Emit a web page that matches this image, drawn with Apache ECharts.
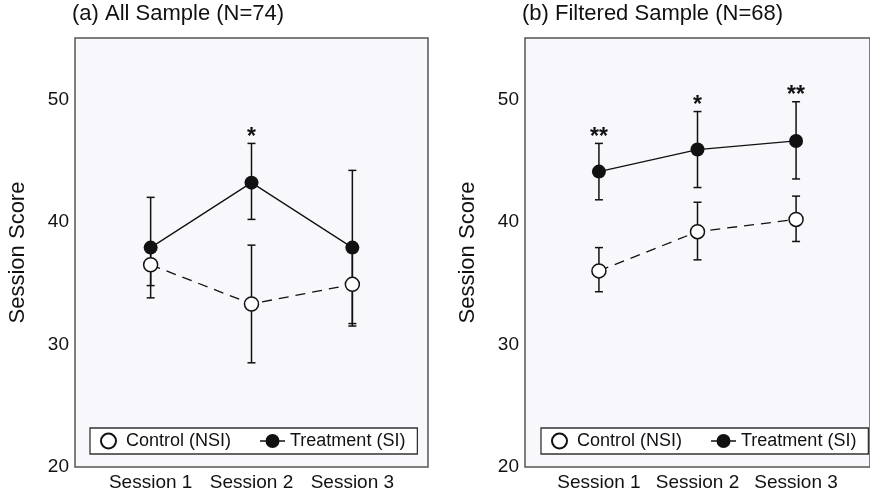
<!DOCTYPE html>
<html>
<head>
<meta charset="utf-8">
<script src="https://cdn.jsdelivr.net/npm/echarts@6/dist/echarts.min.js"></script>
<style>
  html, body { margin: 0; padding: 0; background: #ffffff; }
  #chart { width: 870px; height: 494px; }
</style>
</head>
<body>
<div id="chart"></div>
<script>
// Session labels and y-axis tick values
const categories = ['Session 1', 'Session 2', 'Session 3'];
const yTicks = [20, 30, 40, 50];

// (a) All sample: means with lower/upper error bar ends
const allControlMean = [36.5, 33.3, 34.9];
const allControlLow  = [34.8, 28.5, 31.5];
const allControlHigh = [38.2, 38.1, 38.2];
const allTreatMean   = [37.9, 43.2, 37.9];
const allTreatLow    = [33.8, 40.2, 31.7];
const allTreatHigh   = [42.0, 46.4, 44.2];
const allSig         = ['', '*', ''];

// (b) Filtered sample
const filtControlMean = [36.0, 39.2, 40.2];
const filtControlLow  = [34.3, 36.9, 38.4];
const filtControlHigh = [37.9, 41.6, 42.1];
const filtTreatMean   = [44.1, 45.9, 46.6];
const filtTreatLow    = [41.8, 42.8, 43.5];
const filtTreatHigh   = [46.4, 49.0, 49.8];
const filtSig         = ['**', '*', '**'];

const panelTitles = ['(a) All Sample (N=74)', '(b) Filtered Sample (N=68)'];
const controlName = 'Control (NSI)';
const treatName = 'Treatment (SI)';

const FONT = '"Liberation Sans", Arial, Helvetica, sans-serif';
const INK = '#111';

// legend glyph for the treatment series: short line with a filled dot
const treatIcon = 'path://M0,6.3L6,6.3L6,7.7L0,7.7Z M19,6.3L25,6.3L25,7.7L19,7.7Z ' +
  'M5.5,7A7,7 0 1,1 19.5,7A7,7 0 1,1 5.5,7Z';

const points = (vals) => vals.map((v, i) => [i + 1, v]);
const ranges = (lo, hi) => lo.map((l, i) => [i + 1, l, hi[i]]);

function errorBars(idx, lo, hi) {
  return {
    type: 'custom',
    xAxisIndex: idx, yAxisIndex: idx,
    z: 1,
    silent: true,
    data: ranges(lo, hi),
    renderItem: function (params, api) {
      const x = api.value(0);
      const top = api.coord([x, api.value(2)]);
      const bot = api.coord([x, api.value(1)]);
      const cap = 4;
      const style = { stroke: INK, lineWidth: 1.5 };
      return {
        type: 'group',
        children: [
          { type: 'line', shape: { x1: top[0], y1: top[1], x2: bot[0], y2: bot[1] }, style },
          { type: 'line', shape: { x1: top[0] - cap, y1: top[1], x2: top[0] + cap, y2: top[1] }, style },
          { type: 'line', shape: { x1: bot[0] - cap, y1: bot[1], x2: bot[0] + cap, y2: bot[1] }, style }
        ]
      };
    }
  };
}

function sigMarks(idx, hi, sig) {
  return {
    type: 'custom',
    xAxisIndex: idx, yAxisIndex: idx,
    z: 5,
    silent: true,
    data: hi.map((h, i) => [i + 1, h, sig[i]]),
    renderItem: function (params, api) {
      const p = api.coord([api.value(0), api.value(1)]);
      return {
        type: 'text',
        style: {
          text: sig[params.dataIndex],
          x: p[0], y: p[1] - 6,
          align: 'center', verticalAlign: 'middle',
          font: 'bold 23px ' + FONT,
          fill: INK
        }
      };
    }
  };
}

function controlLine(idx, mean) {
  return {
    name: controlName,
    type: 'line',
    xAxisIndex: idx, yAxisIndex: idx,
    z: 3,
    data: points(mean),
    symbol: 'circle',
    symbolSize: 14,
    itemStyle: { color: '#ffffff', borderColor: INK, borderWidth: 1.5 },
    lineStyle: { color: INK, width: 1.3, type: [10, 7] },
    silent: true
  };
}

function treatLine(idx, mean) {
  return {
    name: treatName,
    type: 'line',
    xAxisIndex: idx, yAxisIndex: idx,
    z: 4,
    data: points(mean),
    symbol: 'circle',
    symbolSize: 14,
    itemStyle: { color: INK, borderColor: INK, borderWidth: 0 },
    lineStyle: { color: INK, width: 1.3 },
    silent: true
  };
}

const gridLefts = [75, 525];

function legendFor(left) {
  return {
    left: left, top: 428,
    width: 320,
    orient: 'horizontal',
    padding: [4, 12, 4, 10],
    itemGap: 29,
    itemWidth: 25,
    itemHeight: 15,
    borderColor: '#333',
    borderWidth: 1.3,
    backgroundColor: '#ffffff',
    borderRadius: 0,
    selectedMode: false,
    textStyle: { fontFamily: FONT, fontSize: 18, color: INK, padding: [0, 0, 0, 0] },
    data: [{ name: controlName, icon: 'circle' }, { name: treatName, icon: treatIcon }]
  };
}

const option = {
  animation: false,
  backgroundColor: '#ffffff',
  title: panelTitles.map((t, i) => ({
    text: t,
    left: gridLefts[i] - 3,
    top: 3,
    padding: 0,
    textStyle: { fontFamily: FONT, fontSize: 22, fontWeight: 'normal', color: INK }
  })),
  legend: [legendFor(90), legendFor(541)],
  grid: gridLefts.map(l => ({
    left: l, top: 38, width: 353, height: 429,
    show: true,
    backgroundColor: '#f8f7fb',
    borderColor: '#555',
    borderWidth: 1.5
  })),
  xAxis: gridLefts.map((l, i) => ({
    type: 'value',
    gridIndex: i,
    min: 0.25, max: 3.75,
    axisLine: { show: false },
    axisTick: { show: false },
    splitLine: { show: false },
    axisLabel: {
      customValues: [1, 2, 3],
      formatter: v => categories[Math.round(v) - 1] || '',
      margin: 6,
      fontFamily: FONT, fontSize: 19, color: INK
    }
  })),
  yAxis: gridLefts.map((l, i) => ({
    type: 'value',
    gridIndex: i,
    min: 20, max: 55,
    name: 'Session Score',
    nameLocation: 'middle',
    nameGap: 46,
    nameTextStyle: { fontFamily: FONT, fontSize: 22, color: INK },
    axisLine: { show: false },
    axisTick: { show: false },
    splitLine: { show: false },
    axisLabel: {
      customValues: yTicks,
      margin: 6,
      fontFamily: FONT, fontSize: 19, color: INK
    }
  })),
  series: [
    errorBars(0, allControlLow, allControlHigh),
    errorBars(0, allTreatLow, allTreatHigh),
    controlLine(0, allControlMean),
    treatLine(0, allTreatMean),
    sigMarks(0, allTreatHigh, allSig),
    errorBars(1, filtControlLow, filtControlHigh),
    errorBars(1, filtTreatLow, filtTreatHigh),
    controlLine(1, filtControlMean),
    treatLine(1, filtTreatMean),
    sigMarks(1, filtTreatHigh, filtSig)
  ]
};

const chart = echarts.init(document.getElementById('chart'), null, { renderer: 'canvas' });
chart.setOption(option);
</script>
</body>
</html>
